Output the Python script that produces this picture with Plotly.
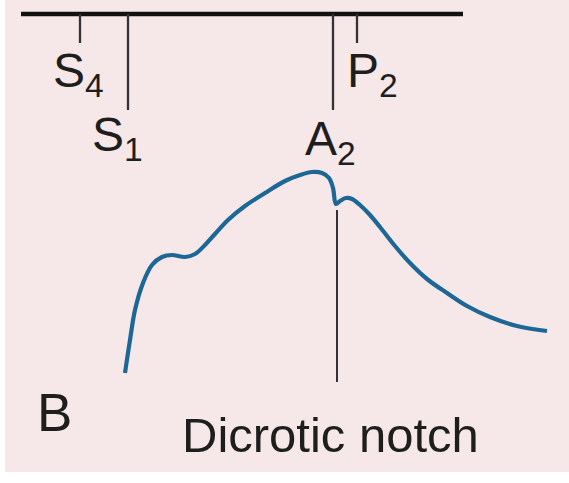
import plotly.graph_objects as go

# Waveform (time units ~ horizontal position, pressure in inverted vertical units)
curve_t = [125, 130, 135, 143, 152, 162, 172, 185, 195, 205, 215, 228, 245, 265, 285, 300,
           312, 322, 329, 333, 336, 340, 346, 352, 360, 370, 380, 395, 410, 427, 447, 467,
           490, 517, 547]
curve_p = [373, 340, 310, 283, 265, 257, 255, 257, 254, 245, 234, 220, 206, 193, 181, 175,
           172, 173, 178, 188, 204, 201, 198, 199, 205, 215, 227, 246, 263, 279, 293, 306,
           317, 326, 331]

# Timeline (heart sounds)
timeline_start, timeline_end, timeline_level = 21, 463, 14
sound_names = ["S<sub>4</sub>", "S<sub>1</sub>", "A<sub>2</sub>", "P<sub>2</sub>"]
sound_t = [80, 128, 333, 357]
sound_len = [43, 110, 110, 43]

notch_t = 337
notch_range = [210, 382]

panel_label = "B"
notch_label = "Dicrotic notch"

W, H = 569, 483
BG = "#f6e8e8"
FONT = "Liberation Sans, Arial, sans-serif"
TXT = "#1e1e1e"

fig = go.Figure()

fig.add_trace(go.Scatter(x=curve_t, y=curve_p, mode="lines",
                         line=dict(color="#1c6795", width=4.2, shape="spline", smoothing=1.0),
                         hoverinfo="skip", showlegend=False))

shapes = []
# pink panel
shapes.append(dict(type="rect", xref="x", yref="y", x0=5, x1=W, y0=0, y1=472,
                   fillcolor=BG, line=dict(width=0), layer="below"))
shapes.append(dict(type="line", xref="x", yref="y", x0=timeline_start, x1=timeline_end,
                   y0=timeline_level, y1=timeline_level, line=dict(color="#111111", width=4.5)))
for t, l in zip(sound_t, sound_len):
    shapes.append(dict(type="line", xref="x", yref="y", x0=t, x1=t,
                       y0=timeline_level, y1=l, line=dict(color="#333333", width=2.3)))
shapes.append(dict(type="line", xref="x", yref="y", x0=notch_t, x1=notch_t,
                   y0=notch_range[0], y1=notch_range[1], line=dict(color="#333333", width=2)))

annotations = []
label_pos = [(51, 42), (90, 106), (303, 110), (345, 42)]
for name, (lx, ly) in zip(sound_names, label_pos):
    annotations.append(dict(x=lx, y=ly, xref="x", yref="y", text=name, showarrow=False,
                            xanchor="left", yanchor="top",
                            font=dict(family=FONT, size=48, color=TXT)))
annotations.append(dict(x=35, y=412, xref="x", yref="y", text=panel_label, showarrow=False,
                        xanchor="left", yanchor="middle",
                        font=dict(family=FONT, size=53, color=TXT)))
annotations.append(dict(x=330, y=435, xref="x", yref="y", text=notch_label, showarrow=False,
                        xanchor="center", yanchor="middle",
                        font=dict(family=FONT, size=49, color=TXT)))

fig.update_layout(
    width=W, height=H,
    margin=dict(l=0, r=0, t=0, b=0),
    paper_bgcolor="white", plot_bgcolor="white",
    xaxis=dict(range=[0, W], visible=False, fixedrange=True),
    yaxis=dict(range=[H, 0], visible=False, fixedrange=True),
    shapes=shapes, annotations=annotations,
)

fig.write_html("out.html", config={"displayModeBar": False},
               post_script="document.body.style.margin='0';document.body.style.overflow='hidden';")
